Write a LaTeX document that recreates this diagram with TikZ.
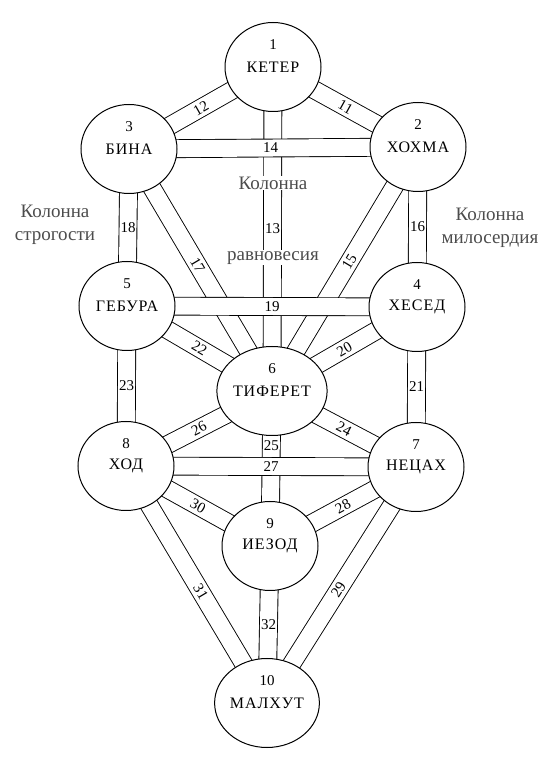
\documentclass[tikz,border=0pt]{standalone}
\usepackage{fontspec}
\setmainfont{Liberation Serif}
\usetikzlibrary{shapes.geometric,backgrounds}

\begin{document}
\begin{tikzpicture}[x=1pt,y=1pt,
  sefira/.style={ellipse, draw, line width=1pt, fill=white, minimum width=96pt, minimum height=89pt, inner sep=0pt, font=\fontsize{16}{16}\selectfont\addfontfeatures{LetterSpace=6}},
  num/.style={font=\fontsize{15}{15}\selectfont},
  chan/.style={double, double distance=17pt, line width=0.9pt},
  lbl/.style={font=\fontsize{15}{15}\selectfont, inner sep=1pt},
  col/.style={font=\fontsize{19}{23}\selectfont, text=black!70, align=center}]
\useasboundingbox (0,0) rectangle (557,764);

% Sefirot (centres measured on the 557x764 sheet, y from bottom)
\node[sefira] (keter)    at (273,697) {КЕТЕР};
\node[sefira] (hokhma)   at (418,617) {ХОХМА};
\node[sefira] (bina)     at (129,615) {БИНА};
\node[sefira] (hesed)    at (417,457) {ХЕСЕД};
\node[sefira] (gebura)   at (127,458) {ГЕБУРА};
\node[sefira] (tiferet)  at (272,373) {ТИФЕРЕТ};
\node[sefira] (netsah)   at (416,297) {НЕЦАХ};
\node[sefira] (hod)      at (126,298) {ХОД};
\node[sefira] (iesod)    at (270,218) {ИЕЗОД};
\node[sefira] (malkhut)  at (267,61)  {МАЛХУТ};

% Numbers of the sefirot
\node[num] (n1)  at ([yshift=22]keter.center)   {1};
\node[num] (n2)  at ([yshift=22]hokhma.center)  {2};
\node[num] (n3)  at ([yshift=22]bina.center)    {3};
\node[num] (n4)  at ([yshift=22]hesed.center)   {4};
\node[num] (n5)  at ([yshift=22]gebura.center)  {5};
\node[num] (n6)  at ([yshift=22]tiferet.center) {6};
\node[num] (n7)  at ([yshift=22]netsah.center)  {7};
\node[num] (n8)  at ([yshift=22]hod.center)     {8};
\node[num] (n9)  at ([yshift=22]iesod.center)   {9};
\node[num] (n10) at ([yshift=22]malkhut.center) {10};

% Paths 11-32 (double channels, under the circles)
\begin{scope}[on background layer]
% diagonals and verticals first
\draw[chan] (keter.center) -- (bina.center) node[lbl, midway, sloped] {12};
\draw[chan] (keter.center) -- (hokhma.center) node[lbl, midway, sloped] {11};
\draw[chan] (keter.center) -- (tiferet.center) node[lbl, midway] {13};
\draw[chan] (bina.center) -- (gebura.center) node[lbl, midway] {18};
\draw[chan] (hokhma.center) -- (hesed.center) node[lbl, midway] {16};
\draw[chan] (bina.center) -- (tiferet.center) node[lbl, pos=0.48, sloped] {17};
\draw[chan] (hokhma.center) -- (tiferet.center) node[lbl, pos=0.47, sloped] {15};
\draw[chan] (gebura.center) -- (tiferet.center) node[lbl, midway, sloped] {22};
\draw[chan] (hesed.center) -- (tiferet.center) node[lbl, midway, sloped] {20};
\draw[chan] (gebura.center) -- (hod.center) node[lbl, midway] {23};
\draw[chan] (hesed.center) -- (netsah.center) node[lbl, midway] {21};
\draw[chan] (tiferet.center) -- (hod.center) node[lbl, midway, sloped] {26};
\draw[chan] (tiferet.center) -- (netsah.center) node[lbl, midway, sloped] {24};
\draw[chan] (tiferet.center) -- (iesod.center) node[lbl, pos=0.35] {25};
\draw[chan] (hod.center) -- (iesod.center) node[lbl, midway, sloped] {30};
\draw[chan] (netsah.center) -- (iesod.center) node[lbl, midway, sloped] {28};
\draw[chan] (hod.center) -- (malkhut.center) node[lbl, pos=0.53, sloped] {31};
\draw[chan] (netsah.center) -- (malkhut.center) node[lbl, pos=0.52, sloped] {29};
\draw[chan] (iesod.center) -- (malkhut.center) node[lbl, midway] {32};
% horizontals on top
\draw[chan] (bina.center) -- (hokhma.center) node[lbl, pos=0.49] {14};
\draw[chan] (gebura.center) -- (hesed.center) node[lbl, midway] {19};
\draw[chan] (hod.center) -- (netsah.center) node[lbl, midway] {27};
\end{scope}

% Column labels
\node[col, fill=white, inner sep=1pt] (sredn1) at (273,581) {Колонна};
\node[col, fill=white, inner sep=1pt] (sredn2) at (273,506) {равновесия};
\node[col] (levaya)  at (55,539)  {Колонна\\строгости};
\node[col] (pravaya) at (490,536) {Колонна\\милосердия};
\end{tikzpicture}
\end{document}
